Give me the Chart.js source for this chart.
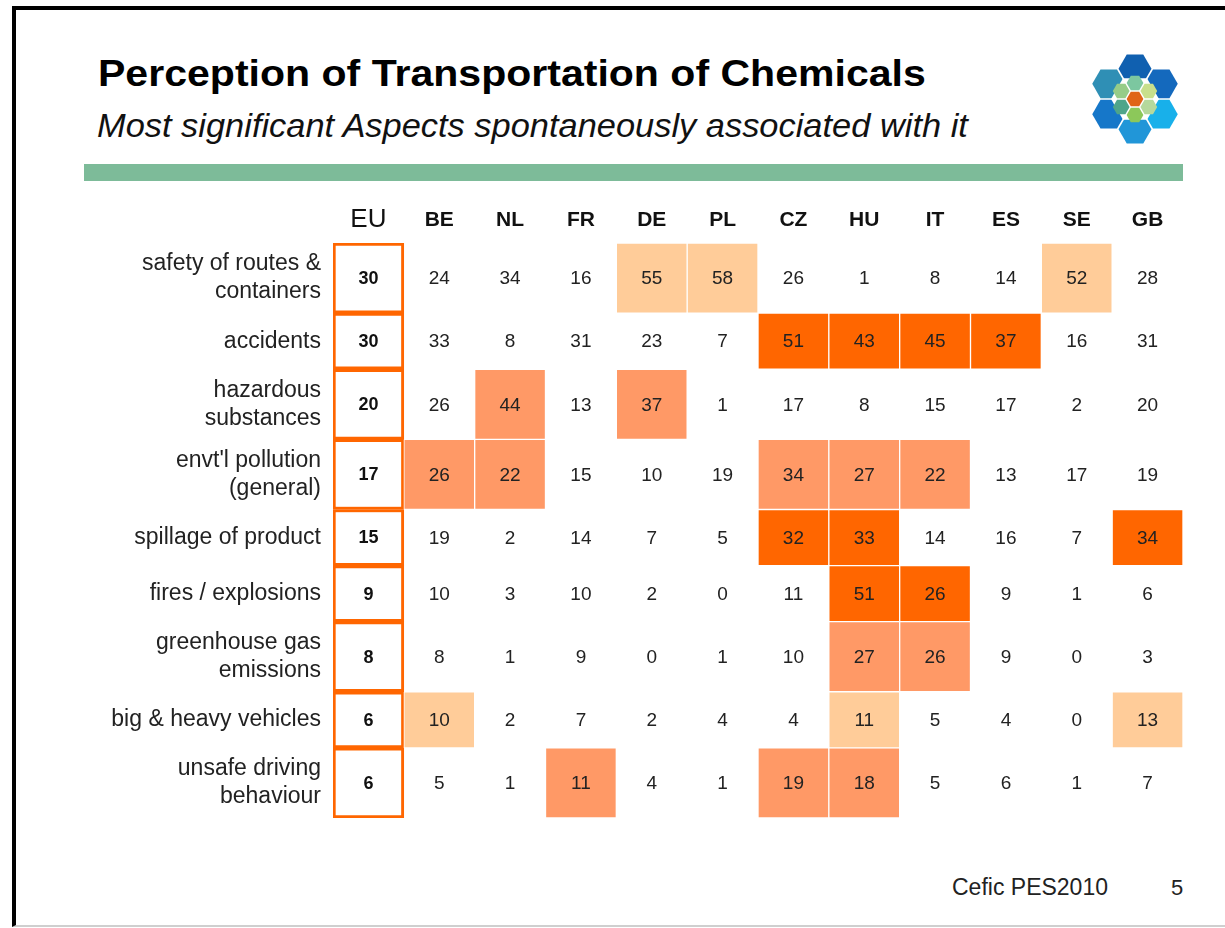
<!DOCTYPE html>
<html>
<head>
<meta charset="utf-8">
<script src="https://cdn.jsdelivr.net/npm/chart.js@4.4.1/dist/chart.umd.min.js"></script>
<style>
  html, body { margin: 0; padding: 0; background: #fff; width: 1225px; height: 928px; overflow: hidden; }
  body { position: relative; font-family: 'Liberation Sans', Arial, sans-serif; }
  #frame { position: absolute; left: 12px; top: 6px; width: 1240px; height: 921px; box-sizing: border-box;
           border-left: 4px solid #000; border-top: 4px solid #000; border-bottom: 2px solid #cfcfcf; }
  #title { position: absolute; left: 98px; top: 56px; font-size: 36px; line-height: 36px; font-weight: bold; color: #000;
           white-space: nowrap; transform: scaleX(1.14); transform-origin: left top; }
  #subtitle { position: absolute; left: 97px; top: 108px; font-size: 34px; line-height: 34px; font-style: italic; color: #111;
              white-space: nowrap; transform: scaleX(1.012); transform-origin: left top; }
  #greenbar { position: absolute; left: 84px; top: 164px; width: 1099px; height: 17px; background: #7dbb99; }
  #logo { position: absolute; left: 1085px; top: 49px; }
  #footer { position: absolute; left: 952px; top: 876px; font-size: 23px; line-height: 23px; color: #222; white-space: nowrap; }
  #page { position: absolute; left: 1171px; top: 876px; font-size: 22px; line-height: 23px; color: #222; }
  #chartbox { position: absolute; left: 0; top: 190px; width: 1225px; height: 658px; }
</style>
</head>
<body>
<div id="frame"></div>
<div id="title">Perception of Transportation of Chemicals</div>
<div id="subtitle">Most significant Aspects spontaneously associated with it</div>
<div id="greenbar"></div>
<svg id="logo" width="100" height="100" viewBox="0 0 100 100"></svg>
<div id="footer">Cefic PES2010</div>
<div id="page">5</div>
<div id="chartbox"><canvas id="c"></canvas></div>
<script>
// ---------- DATA ----------
const countries = ['EU', 'BE', 'NL', 'FR', 'DE', 'PL', 'CZ', 'HU', 'IT', 'ES', 'SE', 'GB'];

const aspects = [
  ['safety of routes &', 'containers'],
  ['accidents'],
  ['hazardous', 'substances'],
  ["envt'l pollution", '(general)'],
  ['spillage of product'],
  ['fires / explosions'],
  ['greenhouse gas', 'emissions'],
  ['big & heavy vehicles'],
  ['unsafe driving', 'behaviour']
];

const safetyValues     = [30, 24, 34, 16, 55, 58, 26, 1, 8, 14, 52, 28];
const accidentsValues  = [30, 33, 8, 31, 23, 7, 51, 43, 45, 37, 16, 31];
const hazardousValues  = [20, 26, 44, 13, 37, 1, 17, 8, 15, 17, 2, 20];
const pollutionValues  = [17, 26, 22, 15, 10, 19, 34, 27, 22, 13, 17, 19];
const spillageValues   = [15, 19, 2, 14, 7, 5, 32, 33, 14, 16, 7, 34];
const firesValues      = [9, 10, 3, 10, 2, 0, 11, 51, 26, 9, 1, 6];
const greenhouseValues = [8, 8, 1, 9, 0, 1, 10, 27, 26, 9, 0, 3];
const vehiclesValues   = [6, 10, 2, 7, 2, 4, 4, 11, 5, 4, 0, 13];
const drivingValues    = [6, 5, 1, 11, 4, 1, 19, 18, 5, 6, 1, 7];

// highlight level of each cell (0 = none, 1 = light, 2 = medium, 3 = strong)
const safetyLevels     = [0, 0, 0, 0, 1, 1, 0, 0, 0, 0, 1, 0];
const accidentsLevels  = [0, 0, 0, 0, 0, 0, 3, 3, 3, 3, 0, 0];
const hazardousLevels  = [0, 0, 2, 0, 2, 0, 0, 0, 0, 0, 0, 0];
const pollutionLevels  = [0, 2, 2, 0, 0, 0, 2, 2, 2, 0, 0, 0];
const spillageLevels   = [0, 0, 0, 0, 0, 0, 3, 3, 0, 0, 0, 3];
const firesLevels      = [0, 0, 0, 0, 0, 0, 0, 3, 3, 0, 0, 0];
const greenhouseLevels = [0, 0, 0, 0, 0, 0, 0, 2, 2, 0, 0, 0];
const vehiclesLevels   = [0, 1, 0, 0, 0, 0, 0, 1, 0, 0, 0, 1];
const drivingLevels    = [0, 0, 0, 2, 0, 0, 2, 2, 0, 0, 0, 0];

const rowValues = [safetyValues, accidentsValues, hazardousValues, pollutionValues, spillageValues,
                   firesValues, greenhouseValues, vehiclesValues, drivingValues];
const rowLevels = [safetyLevels, accidentsLevels, hazardousLevels, pollutionLevels, spillageLevels,
                   firesLevels, greenhouseLevels, vehiclesLevels, drivingLevels];

// ---------- LAYOUT HELPERS ----------
const levelColors = ['rgba(0,0,0,0)', '#ffcc99', '#ff9966', '#ff6600'];
const FONT = "'Liberation Sans', Arial, sans-serif";

// row extents in axis units: two-line rows are taller than one-line rows
const rowStart = [], rowEnd = [], rowCenter = [];
let acc = 0;
aspects.forEach(lines => {
  const h = lines.length > 1 ? 5 : 4;
  rowStart.push(acc); rowEnd.push(acc + h); rowCenter.push(acc + h / 2);
  acc += h;
});
const totalUnits = acc;

// ---------- LOGO ----------
(function drawLogo() {
  const svg = document.getElementById('logo');
  const hex = (cx, cy, r, fill) => {
    const pts = [];
    for (let k = 0; k < 6; k++) {
      const a = Math.PI / 3 * k;
      pts.push((cx + r * Math.cos(a)).toFixed(2) + ',' + (cy + r * Math.sin(a)).toFixed(2));
    }
    const p = document.createElementNS('http://www.w3.org/2000/svg', 'polygon');
    p.setAttribute('points', pts.join(' '));
    p.setAttribute('fill', fill);
    svg.appendChild(p);
  };
  const cx = 50, cy = 50, R = 17.5, r = 16.5;
  const big = [[0, -2, '#1060b0'], [-1.5, -1, '#2f8fb5'], [1.5, -1, '#1469bd'],
               [-1.5, 1, '#1677c9'], [1.5, 1, '#18b0ea'], [0, 2, '#2196d8']];
  big.forEach(([dx, dy, c]) => hex(cx + dx * R, cy + dy * R * 0.866, r, c));
  const Rs = 9.2, rs = 8.4;
  const small = [[0, -2, '#7cc7a0'], [-1.5, -1, '#96cc88'], [1.5, -1, '#c8df8c'],
                 [-1.5, 1, '#4fa58a'], [1.5, 1, '#b5d99c'], [0, 2, '#8cc85a'], [0, 0, '#e06418']];
  hex(cx, cy, 24, '#ffffff');
  small.forEach(([dx, dy, c]) => hex(cx + dx * Rs, cy + dy * Rs * 0.866, rs, c));
})();

// ---------- CHART ----------
const datasets = aspects.map((lines, r) => ({
  label: lines.join(' '),
  data: countries.map(() => [rowStart[r], rowEnd[r]]),
  grouped: false,
  barPercentage: 1,
  categoryPercentage: 1,
  borderSkipped: false,
  backgroundColor: ctx => ctx.dataIndex === 0 ? '#ffffff' : levelColors[rowLevels[r][ctx.dataIndex]],
  borderColor: ctx => ctx.dataIndex === 0 ? '#ff6600' : (rowLevels[r][ctx.dataIndex] ? '#ffffff' : 'rgba(0,0,0,0)'),
  borderWidth: ctx => ctx.dataIndex === 0 ? 3 : 1
}));

const cellText = {
  id: 'cellText',
  afterDatasetsDraw(chart) {
    const ctx = chart.ctx;
    ctx.save();
    ctx.textAlign = 'center';
    ctx.textBaseline = 'middle';
    chart.data.datasets.forEach((ds, r) => {
      const meta = chart.getDatasetMeta(r);
      meta.data.forEach((bar, i) => {
        const p = bar.getProps(['x', 'y', 'base'], true);
        if (i === 0) { ctx.font = 'bold 18px ' + FONT; ctx.fillStyle = '#111'; }
        else { ctx.font = '19px ' + FONT; ctx.fillStyle = '#222'; }
        ctx.fillText(String(rowValues[r][i]), p.x, (p.y + p.base) / 2 + 1);
      });
    });
    ctx.restore();
  }
};

new Chart(document.getElementById('c'), {
  type: 'bar',
  data: { labels: countries, datasets },
  options: {
    responsive: true,
    maintainAspectRatio: false,
    animation: false,
    events: [],
    layout: { padding: { left: 0, right: 42, top: 0, bottom: 30 } },
    plugins: { legend: { display: false }, tooltip: { enabled: false } },
    scales: {
      x: {
        type: 'category',
        position: 'top',
        offset: true,
        grid: { display: false, drawTicks: false },
        border: { display: false },
        ticks: {
          padding: 8,
          color: '#111',
          maxRotation: 0,
          autoSkip: false,
          font: c => c.index === 0
            ? { family: FONT, size: 26, weight: 'normal', lineHeight: '30px' }
            : { family: FONT, size: 21, weight: 'bold', lineHeight: '30px' }
        },
        afterFit: s => { s.height = 53; }
      },
      y: {
        type: 'linear',
        reverse: true,
        min: 0,
        max: totalUnits,
        grid: { display: false, drawTicks: false },
        border: { display: false },
        afterBuildTicks: s => { s.ticks = rowCenter.map(v => ({ value: v })); },
        ticks: {
          autoSkip: false,
          padding: 12,
          color: '#222',
          font: { family: FONT, size: 23, lineHeight: '28px' },
          callback: (v, i) => aspects[i]
        },
        afterFit: s => { s.width = 333; s.paddingTop = 0; s.paddingBottom = 0; }
      }
    }
  },
  plugins: [cellText]
});
</script>
</body>
</html>
